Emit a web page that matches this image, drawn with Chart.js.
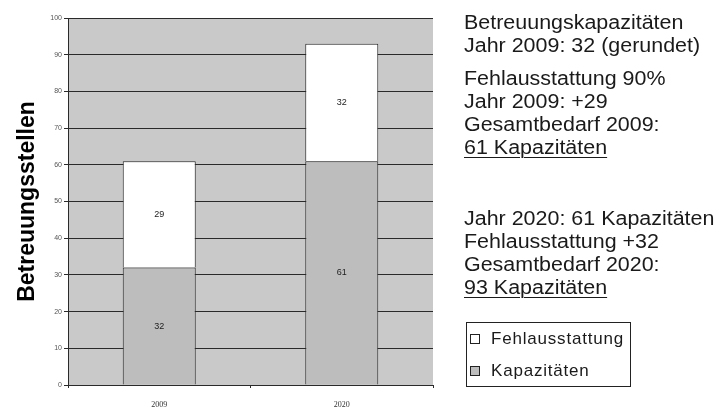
<!DOCTYPE html>
<html>
<head>
<meta charset="utf-8">
<script src="https://cdn.jsdelivr.net/npm/chart.js@4"></script>
<style>
  body { margin: 0; background: #fff; font-family: "Liberation Sans", Arial, sans-serif; }
  #wrap { position: relative; width: 722px; height: 410px; overflow: hidden; }
  #notes { position: absolute; left: 464px; top: 11px; font-size: 19.5px; line-height: 23px; color: #1a1a1a;
           transform: scaleX(1.1); transform-origin: left top; white-space: nowrap; }
  #notes p { margin: 0 0 10px 0; }
  #notes u { text-decoration-thickness: 1px; text-underline-offset: 3px; }
  #legend { position: absolute; left: 466px; top: 322px; width: 160px; height: 63px; border: 1px solid #222;
            padding: 0 0 0 3px; font-size: 17px; letter-spacing: 0.8px; color: #1a1a1a; }
  #legend div { display: flex; align-items: center; height: 32px; }
  #legend span.box { width: 8px; height: 8px; border: 1px solid #222; margin-right: 11px; }
</style>
</head>
<body>
<div id="wrap">
  <canvas id="chart" width="722" height="410"></canvas>
  <div id="notes">
    <p>Betreuungskapazitäten<br>Jahr 2009: 32 (gerundet)</p>
    <p>Fehlausstattung 90%<br>Jahr 2009: +29<br>Gesamtbedarf 2009:<br><u>61 Kapazitäten</u></p>
    <p style="margin-top:48px">Jahr 2020: 61 Kapazitäten<br>Fehlausstattung +32<br>Gesamtbedarf 2020:<br><u>93 Kapazitäten</u></p>
  </div>
  <div id="legend"></div>
</div>
<script>
  // Chart data
  const years = ['2009', '2020'];
  const kapazitaeten = [32, 61];
  const fehlausstattung = [29, 32];
  const yTicks = [0, 10, 20, 30, 40, 50, 60, 70, 80, 90, 100];

  const colors = {
    plot: '#c9c9c9',
    lower: '#bdbdbd',
    upper: '#ffffff',
    line: '#2a2a2a',
  };

  // Grey plot area behind the bars
  const plotBackground = {
    id: 'plotBackground',
    beforeDraw: (chart) => {
      const { ctx, chartArea: a } = chart;
      ctx.save();
      ctx.fillStyle = colors.plot;
      ctx.fillRect(a.left, a.top, a.right - a.left, a.bottom - a.top);
      ctx.restore();
    },
  };

  // Value in the middle of each segment
  const segmentLabels = {
    id: 'segmentLabels',
    afterDatasetsDraw: (chart) => {
      const { ctx } = chart;
      ctx.save();
      ctx.font = '9px "Liberation Sans", Arial, sans-serif';
      ctx.fillStyle = '#222';
      ctx.textAlign = 'center';
      ctx.textBaseline = 'middle';
      chart.data.datasets.forEach((ds, i) => {
        chart.getDatasetMeta(i).data.forEach((bar, j) => {
          const mid = (bar.y + bar.base) / 2;
          ctx.fillText(String(ds.data[j]), bar.x, mid);
        });
      });
      ctx.restore();
    },
  };

  const chart = new Chart(document.getElementById('chart'), {
    type: 'bar',
    data: {
      labels: years,
      datasets: [
        {
          label: 'Kapazitäten',
          data: kapazitaeten,
          backgroundColor: colors.lower,
          borderColor: colors.line,
          borderWidth: { left: 1, right: 1, top: 1, bottom: 0 },
          borderSkipped: false,
        },
        {
          label: 'Fehlausstattung',
          data: fehlausstattung,
          backgroundColor: colors.upper,
          borderColor: colors.line,
          borderWidth: { left: 1, right: 1, top: 1, bottom: 0 },
          borderSkipped: false,
        },
      ],
    },
    options: {
      responsive: false,
      animation: false,
      layout: { padding: { top: 18, right: 289, left: 0, bottom: 0 } },
      barPercentage: 0.4,
      categoryPercentage: 1,
      plugins: {
        legend: { display: false },
        tooltip: { enabled: false },
      },
      scales: {
        x: {
          stacked: true,
          afterFit: (s) => { s.height = 25; },
          grid: { display: true, drawOnChartArea: false, tickLength: 3, color: colors.line, offset: true },
          border: { color: colors.line },
          ticks: { color: '#333', font: { size: 8, family: '"Liberation Serif", serif' }, padding: 12 },
        },
        y: {
          stacked: true,
          min: 0,
          max: 100,
          afterFit: (s) => { s.width = 68; },
          afterBuildTicks: (s) => { s.ticks = yTicks.map((v) => ({ value: v })); },
          grid: { color: colors.line, tickLength: 4, lineWidth: 1 },
          border: { color: colors.line },
          ticks: { color: '#555', font: { size: 7 }, padding: 2 },
          title: {
            display: true,
            text: 'Betreuungsstellen',
            color: '#000',
            font: { size: 23, weight: 'bold', family: '"Liberation Sans", Arial, sans-serif' },
            padding: { top: 14, bottom: 0 },
          },
        },
      },
    },
    plugins: [plotBackground, segmentLabels],
  });

  // Legend list built from the datasets (top segment first)
  const legendEl = document.getElementById('legend');
  chart.data.datasets.slice().reverse().forEach((ds) => {
    const row = document.createElement('div');
    row.innerHTML = `<span class="box" style="background:${ds.backgroundColor}"></span>${ds.label}`;
    legendEl.appendChild(row);
  });
</script>
</body>
</html>
